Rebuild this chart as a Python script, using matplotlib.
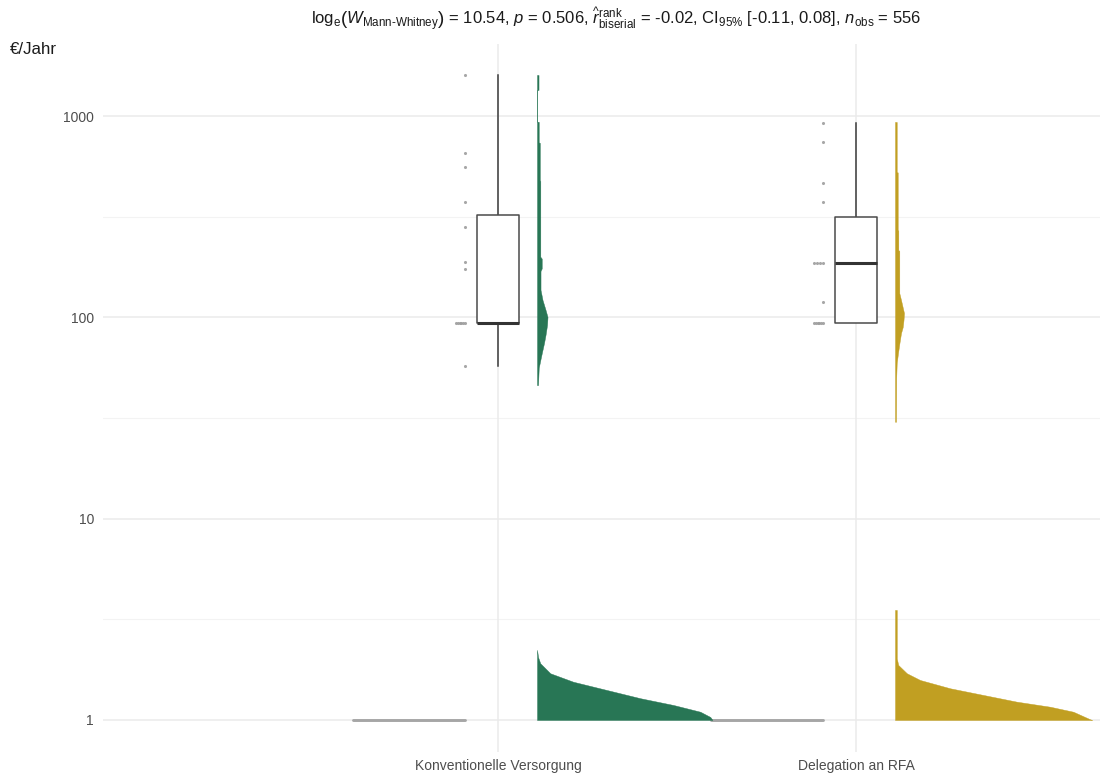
import numpy as np
import matplotlib
matplotlib.use("Agg")
import matplotlib.pyplot as plt

plt.rcParams['font.family'] = ['Liberation Sans', 'DejaVu Sans']
plt.rcParams['mathtext.fontset'] = 'custom'
plt.rcParams['mathtext.rm'] = 'Liberation Sans'
plt.rcParams['mathtext.it'] = 'Liberation Sans:italic'
plt.rcParams['mathtext.bf'] = 'Liberation Sans:bold'

# ---------------- data ----------------
categories = ["Konventionelle Versorgung", "Delegation an RFA"]
colors = ["#287655", "#C19F22"]

# boxplot statistics (€/Jahr): lower whisker, Q1, median, Q3, upper whisker
box_stats = [
    [57.5, 93.8, 93.8, 323, 1600],
    [93.9, 93.9, 186, 314, 927],
]

# jittered observations (value, count)
g1_points = [1600, 656, 559, 374, 281, 188, 174, 94, 57.5]
g1_counts = [1, 1, 1, 1, 1, 1, 1, 6, 1]
g2_points = [927, 746, 467, 374, 186, 119, 94]
g2_counts = [1, 1, 1, 1, 4, 1, 6]

# half-violin density profiles (value, relative density)
g1_violin_vals = [1600, 1348, 1346, 938, 936, 740, 736, 480, 476, 200, 196, 188, 175,
                  170, 137, 122, 109, 100.5, 91.6, 81.8, 74.6, 67.3, 61.4, 56.1, 46.1]
g1_violin_dens = [1.5, 1.5, 0, 0, 1.7, 1.7, 2.8, 2.8, 3.3, 3.3, 4.7, 4.7, 4.7,
                  3.5, 3.5, 5.5, 8.5, 10.5, 10, 8.5, 7, 5, 3.3, 1.7, 1]
g2_violin_vals = [935, 527, 525, 272, 270, 216, 214, 132, 122, 112, 105, 97, 89.5,
                  83.6, 75, 66.6, 59.3, 50, 30.3]
g2_violin_dens = [1.7, 1.7, 2.7, 2.7, 3.3, 3.3, 4.3, 4.3, 6, 7.7, 9, 8.5, 7.7,
                  6, 4.5, 3, 1.7, 1.2, 1]

# density of the lowest values (drawn at the bottom of the log axis)
g1_low_vals = [1.0, 1.035, 1.099, 1.187, 1.282, 1.409, 1.549, 1.706, 1.913, 2.05, 2.23]
g1_low_dens = [0.490, 0.484, 0.456, 0.381, 0.289, 0.195, 0.101, 0.037, 0.009, 0.003, 0.0]
g2_low_vals = [1.0, 1.008, 1.099, 1.164, 1.233, 1.331, 1.437, 1.58, 1.706, 1.876, 2.02, 2.05, 3.52]
g2_low_dens = [0.551, 0.545, 0.498, 0.433, 0.340, 0.247, 0.154, 0.070, 0.033, 0.009, 0.005, 0.005, 0.005]

y_ticks = [1, 10, 100, 1000]
y_ticklabels = ["1", "10", "100", "1000"]
y_label = "€/Jahr"
title = (r"$\mathrm{log}_{\mathrm{e}}\left(W_{\mathrm{Mann\text{-}Whitney}}\right)$ = 10.54, "
         r"$p$ = 0.506, $\widehat{r}_{\mathrm{biserial}}^{\mathrm{rank}}$ = -0.02, "
         r"CI$_{95\%}$ [-0.11, 0.08], $n_{\mathrm{obs}}$ = 556")

# ---------------- figure ----------------
W, H = 1104, 776
fig = plt.figure(figsize=(W / 100, H / 100), dpi=100)
ax = fig.add_axes([103 / W, 1 - 752 / H, (1100 - 103) / W, (752 - 44) / H])
ax.set_yscale("log")
ax.set_ylim(10 ** -0.159, 10 ** 3.358)
ax.set_xlim(-0.1034, 2.6816)

# grid
for t in y_ticks:
    ax.axhline(t, color="#EBEBEB", lw=1.1, zorder=0)
for t in [10 ** 0.5, 10 ** 1.5, 10 ** 2.5]:
    ax.axhline(t, color="#F3F3F3", lw=0.8, zorder=0)
positions = [1, 2]
for p in positions:
    ax.axvline(p, color="#EBEBEB", lw=1.1, zorder=0)

px = 1 / 358.0  # data units per pixel horizontally
box_w = 0.12
violin_off = 0.109
point_off = -0.092

for i, p in enumerate(positions):
    lw_, q1, med, q3, uw = box_stats[i]
    ax.plot([p, p], [q3, uw], color="#3A3A3A", lw=1.1, zorder=2)
    ax.plot([p, p], [lw_, q1], color="#3A3A3A", lw=1.1, zorder=2)
    ax.fill_between([p - box_w / 2, p + box_w / 2], q1, q3, facecolor="white",
                    edgecolor="#4A4A4A", lw=1.1, zorder=3)
    ax.plot([p - box_w / 2, p + box_w / 2], [med, med], color="#333333", lw=2.2,
            zorder=4, solid_capstyle="butt")

# half violins
for p, vals, dens, c in [(1, g1_violin_vals, g1_violin_dens, colors[0]),
                         (2, g2_violin_vals, g2_violin_dens, colors[1])]:
    d = np.array(dens) * px
    ax.fill_betweenx(vals, p + violin_off, p + violin_off + d, facecolor=c,
                     edgecolor=c, lw=0.3, zorder=3)

# low-value densities
for p, vals, dens, c in [(1, g1_low_vals, g1_low_dens, colors[0]),
                         (2, g2_low_vals, g2_low_dens, colors[1])]:
    ax.fill_betweenx(vals, p + violin_off, p + violin_off + np.array(dens),
                     facecolor=c, edgecolor=c, lw=0.3, zorder=3)

# zero bars (observations squished to the axis bottom)
for p in positions:
    ax.plot([p - 0.405, p - 0.092], [1, 1], color="#A6A6A6", lw=2.1,
            solid_capstyle="round", zorder=2)

# jittered points
for p, vals, cnts in [(1, g1_points, g1_counts), (2, g2_points, g2_counts)]:
    for v, n in zip(vals, cnts):
        if n == 1:
            xs = [p + point_off]
        else:
            xs = np.linspace(p + point_off - 0.025, p + point_off, n)
        ax.scatter(xs, [v] * len(xs), s=5, color="#9E9E9E", alpha=0.9,
                   linewidths=0, zorder=2)

ax.set_yticks(y_ticks)
ax.set_yticklabels(y_ticklabels)
ax.yaxis.set_minor_locator(matplotlib.ticker.NullLocator())
ax.set_xticks(positions)
ax.set_xticklabels(categories)
ax.tick_params(axis="both", length=0, labelsize=10, labelcolor="#4D4D4D")
ax.tick_params(axis="y", pad=6.5)
ax.tick_params(axis="x", pad=5)
for s in ax.spines.values():
    s.set_visible(False)

fig.text(10 / W, 1 - 50 / H, y_label, ha="left", va="center", fontsize=12.2,
         color="#1A1A1A")
fig.text(616 / W, 1 - 19 / H, title, ha="center", va="center", fontsize=12,
         color="#1A1A1A")

fig.savefig("out.png", dpi=100, facecolor="white")
